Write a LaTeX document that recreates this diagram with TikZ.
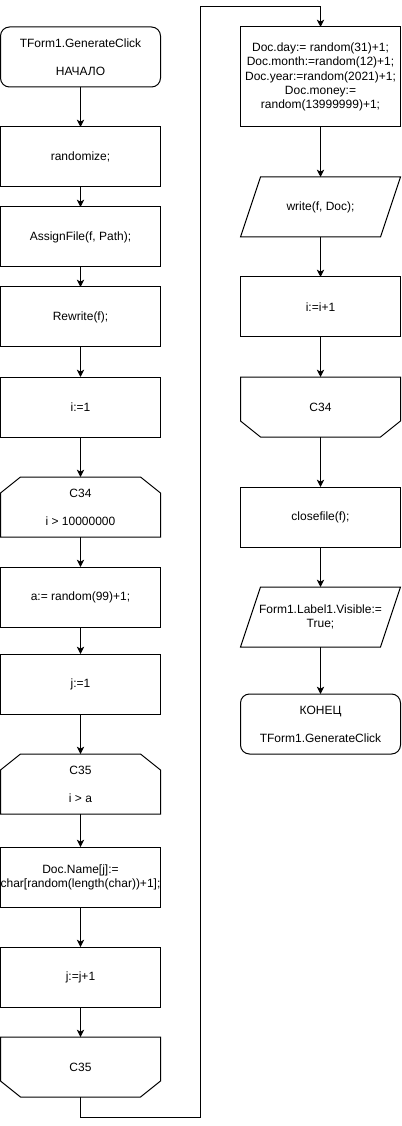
\documentclass[tikz,border=0pt]{standalone}
\usepackage{fontspec}
\setmainfont{Liberation Sans}
\usetikzlibrary{arrows.meta}
\begin{document}
\begin{tikzpicture}[x=0.75pt,y=-0.75pt,
  every node/.style={font=\fontsize{9pt}{10.6pt}\selectfont, align=center, inner sep=0pt, outer sep=0pt},
  box/.style={draw, line width=0.75pt, minimum width=120pt, minimum height=45pt},
  tallbox/.style={box, minimum height=75pt},
  term/.style={box, rounded corners=6.75pt},
  shapeonly/.style={minimum width=120pt, minimum height=45pt},
  shp/.style={line width=0.75pt},
  arr/.style={line width=0.75pt, -{Stealth[length=5.5pt,width=5.5pt,inset=1.5pt]}},
  flow/.style={line width=0.75pt}]
\useasboundingbox (0,0) rectangle (401,1126);

% left column
\node[term] (start) at (80.5,57) {TForm1.GenerateClick\\[10.5pt]НАЧАЛО};
\node[box] (rnd) at (80.5,157) {randomize;};
\node[box] (assign) at (80.5,237) {AssignFile(f, Path);};
\node[box] (rew) at (80.5,317) {Rewrite(f);};
\node[box] (ione) at (80.5,407) {i:=1};
\node[shapeonly] (ls34) at (80.5,507) {C34\\[10.5pt]i > 10000000};
\node[box] (aset) at (80.5,597) {a:= random(99)+1;};
\node[box] (jone) at (80.5,684) {j:=1};
\node[shapeonly] (ls35) at (80.5,784) {C35\\[10.5pt]i > a};
\node[box] (dname) at (80.5,877) {Doc.Name[j]:=\\char[random(length(char))+1];};
\node[box] (jinc) at (80.5,977) {j:=j+1};
\node[shapeonly] (le35) at (80.5,1067) {C35};

% right column
\node[tallbox] (dday) at (320.5,77) {\fontsize{9pt}{8.45pt}\selectfont Doc.day:= random(31)+1;\\Doc.month:=random(12)+1;\\Doc.year:=random(2021)+1;\\Doc.money:=\\random(13999999)+1;};
\node[shapeonly] (wr) at (320.5,207) {write(f, Doc);};
\node[box] (iinc) at (320.5,307) {i:=i+1};
\node[shapeonly] (le34) at (320.5,407) {C34};
\node[box] (cls) at (320.5,517) {closefile(f);};
\node[shapeonly] (vis) at (320.5,617) {Form1.Label1.Visible:=\\True;};
\node[term] (fin) at (320.5,724) {КОНЕЦ\\[10.5pt]TForm1.GenerateClick};

% loop start shapes (top corners cut)
\foreach \n in {ls34,ls35}{
  \draw[shp] ([xshift=15pt]\n.north west) -- ([xshift=-15pt]\n.north east)
    -- ([yshift=-12pt]\n.north east) -- (\n.south east) -- (\n.south west)
    -- ([yshift=-12pt]\n.north west) -- cycle;
}
% loop end shapes (bottom corners cut)
\foreach \n in {le34,le35}{
  \draw[shp] (\n.north west) -- (\n.north east)
    -- ([yshift=12pt]\n.south east) -- ([xshift=-15pt]\n.south east)
    -- ([xshift=15pt]\n.south west) -- ([yshift=12pt]\n.south west) -- cycle;
}
% parallelograms
\foreach \n in {wr,vis}{
  \draw[shp] ([xshift=15pt]\n.north west) -- (\n.north east)
    -- ([xshift=-15pt]\n.south east) -- (\n.south west) -- cycle;
}

% connectors
\draw[arr] (start) -- (rnd);
\draw[arr] (rnd) -- (assign);
\draw[arr] (assign) -- (rew);
\draw[arr] (rew) -- (ione);
\draw[arr] (ione) -- (ls34);
\draw[arr] (ls34) -- (aset);
\draw[arr] (aset) -- (jone);
\draw[arr] (jone) -- (ls35);
\draw[arr] (ls35) -- (dname);
\draw[arr] (dname) -- (jinc);
\draw[arr] (jinc) -- (le35);
\coordinate (b1) at (80.5,1117);
\coordinate (b2) at (200.5,1117);
\coordinate (t1) at (200.5,7);
\coordinate (t2) at (320.5,7);
\draw[arr] (le35.south) -- (b1) -- (b2) -- (t1) -- (t2) -- (dday.north);
\draw[arr] (dday) -- (wr);
\draw[arr] (wr) -- (iinc);
\draw[arr] (iinc) -- (le34);
\draw[arr] (le34) -- (cls);
\draw[arr] (cls) -- (vis);
\draw[arr] (vis) -- (fin);
\end{tikzpicture}
\end{document}
